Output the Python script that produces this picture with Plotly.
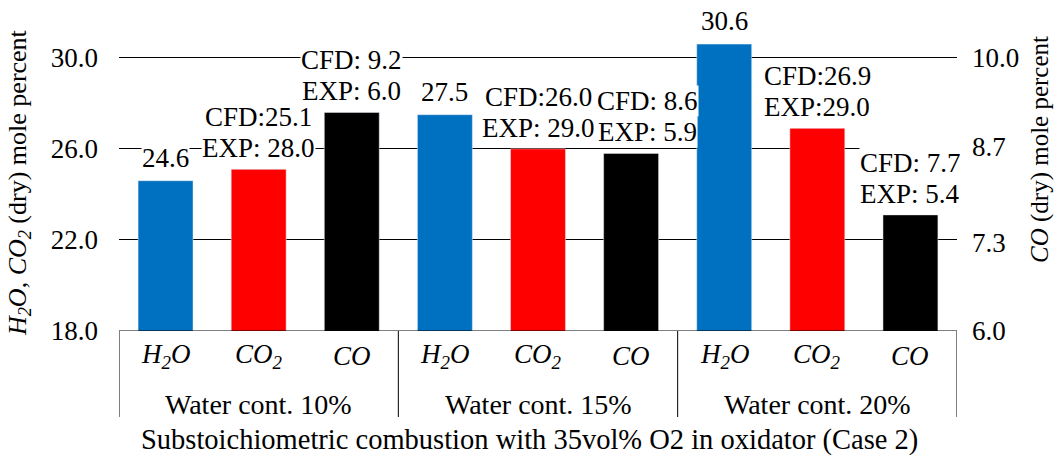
import plotly.graph_objects as go

# ---- data ----
groups = ["Water cont. 10%", "Water cont. 15%", "Water cont. 20%"]
species = ["<i>H<sub>2</sub>O</i>", "<i>CO<sub>2</sub></i>", "<i>CO</i>"]
h2o_cfd = [24.6, 27.5, 30.6]
co2_cfd = [25.1, 26.0, 26.9]
co2_exp = [28.0, 29.0, 29.0]
co_cfd = [9.2, 8.6, 7.7]
co_exp = [6.0, 5.9, 5.4]
co2_cfd_fmt = ["CFD:{:.1f}", "CFD:{:.1f}", "CFD:{:.1f}"]
co2_exp_fmt = ["EXP: {:.1f}", "EXP: {:.1f}", "EXP:{:.1f}"]
co_cfd_fmt = "CFD: {:.1f}"
co_exp_fmt = "EXP: {:.1f}"
left_ticks = [18.0, 22.0, 26.0, 30.0]
right_ticks = [6.0, 7.3, 8.7, 10.0]
left_title = "<i>H<sub>2</sub>O</i>, <i>CO<sub>2</sub></i> (dry) mole percent"
right_title = "<i>CO</i> (dry) mole percent"
x_title = "Substoichiometric combustion with 35vol% O2 in oxidator (Case 2)"

# label horizontal nudges (pixels) for the CO labels
co_label_xshift = [0, 16, 0]

BLUE = "#0070C0"
RED = "#FF0000"
BLACK = "#000000"
FONT = "Liberation Serif, serif"
FS = 27
LINE_H = 30
LOW_SHIFT = 21
HIGH_SHIFT = 52

W, H = 1056, 461
ML, MR, MT, MB = 119, 99, 35, 130
PW, PH = W - ML - MR, H - MT - MB


def px_x(px):
    return (px - ML) / PW


def px_y(py):
    return (H - MB - py) / PH


ng = len(groups)
x_h2o = [3 * g + 0 for g in range(ng)]
x_co2 = [3 * g + 1 for g in range(ng)]
x_co = [3 * g + 2 for g in range(ng)]
BW = 0.59

fig = go.Figure()
fig.add_trace(go.Bar(x=x_h2o, y=h2o_cfd, marker_color=BLUE, width=BW, yaxis="y", showlegend=False))
fig.add_trace(go.Bar(x=x_co2, y=co2_cfd, marker_color=RED, width=BW, yaxis="y", showlegend=False))
fig.add_trace(go.Bar(x=x_co, y=co_cfd, marker_color=BLACK, width=BW, yaxis="y2", showlegend=False))

annotations = []
lbl_font = dict(family=FONT, size=FS, color="black")


def lab(x, y, yref, text, shift, xshift=0):
    annotations.append(dict(x=x, y=y, xref="x", yref=yref, text=text, showarrow=False,
                            yanchor="middle", yshift=shift, xshift=xshift, bgcolor="white",
                            borderpad=0, height=LINE_H, font=lbl_font))


for g in range(ng):
    lab(x_h2o[g], h2o_cfd[g], "y", f"{h2o_cfd[g]:.1f}", 23)
    lab(x_co2[g], co2_cfd[g], "y", co2_exp_fmt[g].format(co2_exp[g]), LOW_SHIFT)
    lab(x_co2[g], co2_cfd[g], "y", co2_cfd_fmt[g].format(co2_cfd[g]), HIGH_SHIFT)
    lab(x_co[g], co_cfd[g], "y2", co_exp_fmt.format(co_exp[g]), LOW_SHIFT, co_label_xshift[g])
    lab(x_co[g], co_cfd[g], "y2", co_cfd_fmt.format(co_cfd[g]), HIGH_SHIFT, co_label_xshift[g])

# category and group labels
for g in range(ng):
    for i in range(3):
        annotations.append(dict(x=3 * g + i, y=px_y(356), xref="x", yref="paper", text=species[i],
                                showarrow=False, font=lbl_font, yanchor="middle"))
    annotations.append(dict(x=3 * g + 1, y=px_y(404), xref="x", yref="paper", text=groups[g],
                            showarrow=False, font=dict(family=FONT, size=28, color="black"),
                            yanchor="middle"))

annotations.append(dict(text=left_title, textangle=-90, showarrow=False, xref="paper", yref="paper",
                        x=px_x(19), y=px_y(183), xanchor="center", yanchor="middle",
                        font=dict(family=FONT, size=26, color="black")))
annotations.append(dict(text=right_title, textangle=-90, showarrow=False, xref="paper", yref="paper",
                        x=px_x(1040), y=px_y(150), xanchor="center", yanchor="middle",
                        font=dict(family=FONT, size=25, color="black")))
annotations.append(dict(text=x_title, showarrow=False, xref="paper", yref="paper",
                        x=px_x(529), y=px_y(440), xanchor="center", yanchor="middle",
                        font=dict(family=FONT, size=28.5, color="black")))

shapes = [dict(type="line", xref="x", yref="y", x0=-0.5, x1=3 * ng - 0.5, y0=left_ticks[0],
               y1=left_ticks[0], line=dict(color="black", width=1))]
for g in range(ng + 1):
    shapes.append(dict(type="line", xref="x", yref="paper", x0=3 * g - 0.5, x1=3 * g - 0.5,
                       y0=0, y1=px_y(417), line=dict(color="black", width=1)))

fig.update_layout(
    width=W, height=H,
    margin=dict(l=ML, r=MR, t=MT, b=MB),
    plot_bgcolor="white", paper_bgcolor="white",
    font=dict(family=FONT, size=FS, color="black"),
    barmode="overlay",
    xaxis=dict(range=[-0.5, 3 * ng - 0.5], showticklabels=False, showgrid=False, zeroline=False,
               showline=False, ticks=""),
    yaxis=dict(range=[18, 31], tickvals=left_ticks, ticktext=[f"{v:.1f}" for v in left_ticks],
               showgrid=True, gridcolor="black", gridwidth=1, zeroline=False, showline=False,
               ticklabelstandoff=20, tickfont=dict(family=FONT, size=FS)),
    yaxis2=dict(range=[6, 6 + 13 / 3], overlaying="y", side="right", tickvals=right_ticks,
                ticktext=[f"{v:.1f}" for v in right_ticks], showgrid=False, zeroline=False,
                showline=False, ticklabelstandoff=14, tickfont=dict(family=FONT, size=FS)),
    annotations=annotations,
    shapes=shapes,
)

fig.write_html("out.html")
